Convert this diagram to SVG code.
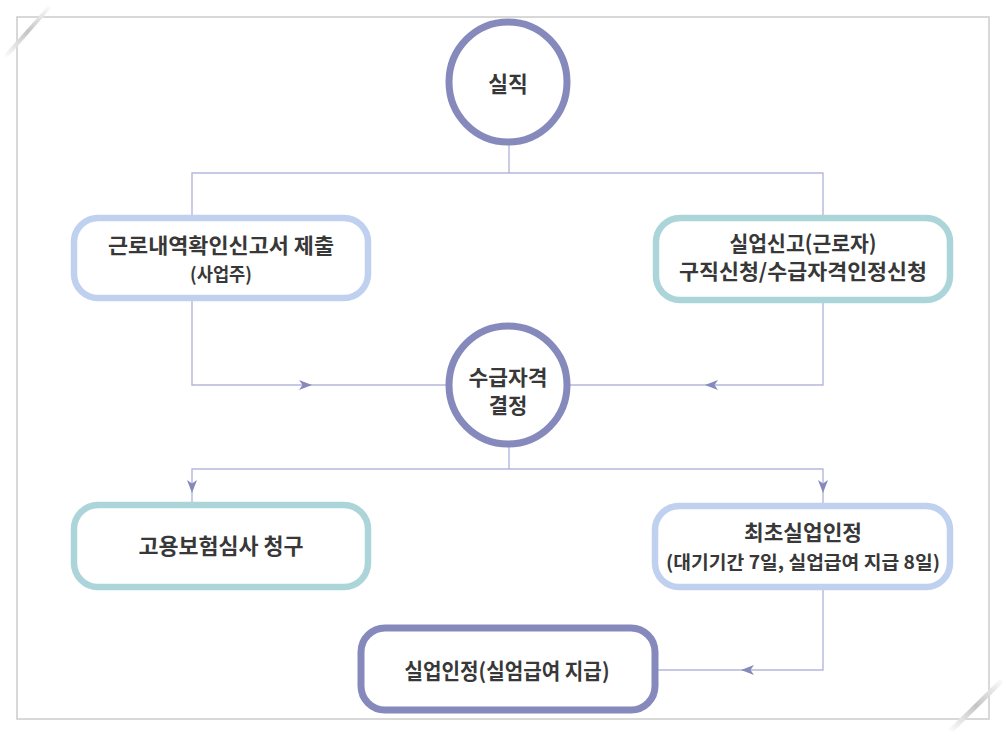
<svg xmlns="http://www.w3.org/2000/svg" width="1006" height="736" viewBox="0 0 1006 736">
  <style>
    .t { font-family: "Noto Sans CJK KR", "Noto Sans", sans-serif; fill: #383838; text-anchor: middle; font-weight: 600; }
    .big { font-size: 21.5px; }
    .mid { font-size: 21px; }
    .small { font-size: 18.5px; }
    .circle { fill: #ffffff; stroke: #8589bb; stroke-width: 7; }
    .boxBlue { fill: #ffffff; stroke: #bfd1ef; stroke-width: 6.5; }
    .boxTeal { fill: #ffffff; stroke: #acd5da; stroke-width: 6.5; }
    .boxDark { fill: #ffffff; stroke: #8589bb; stroke-width: 7; }
    .conn { fill: none; stroke: #b4b7dc; stroke-width: 1.4; }
    .arrow { fill: #8589bb; }
  </style>
  <defs>
    <path id="ah" d="M0,0 L-13,-5 L-9.5,0 L-13,5 Z"/>
    <linearGradient id="curlTL" x1="0" y1="1" x2="1" y2="0">
      <stop offset="0" stop-color="#ffffff"/>
      <stop offset="0.5" stop-color="#c4c4c4"/>
      <stop offset="1" stop-color="#ffffff"/>
    </linearGradient>
    <linearGradient id="curlBR" x1="0" y1="1" x2="1" y2="0">
      <stop offset="0" stop-color="#ffffff"/>
      <stop offset="0.5" stop-color="#c4c4c4"/>
      <stop offset="1" stop-color="#ffffff"/>
    </linearGradient>
  </defs>

  <rect x="0" y="0" width="1006" height="736" fill="#ffffff"/>

  <g id="frame">
    <rect x="17" y="17" width="972" height="702" fill="#ffffff" stroke="#cccccc" stroke-width="1.5"/>
    <polygon points="3,56 48,6 52,7 8,57" fill="url(#curlTL)"/>
    <polygon points="948,730 1000,679 1004,682 953,732" fill="url(#curlBR)"/>
  </g>

  <g id="connectors">
    <path class="conn" d="M509,145 V173"/>
    <path class="conn" d="M192,215 V173 H823 V215"/>
    <path class="conn" d="M192,301 V385 H447"/>
    <path class="conn" d="M823,303 V385 H569"/>
    <path class="conn" d="M509,447 V469"/>
    <path class="conn" d="M192,502 V469 H823 V503"/>
    <path class="conn" d="M823,590 V670 H658"/>
    <use href="#ah" class="arrow" transform="translate(312,385)"/>
    <use href="#ah" class="arrow" transform="translate(705,385) rotate(180)"/>
    <use href="#ah" class="arrow" transform="translate(192,493) rotate(90)"/>
    <use href="#ah" class="arrow" transform="translate(823,493) rotate(90)"/>
    <use href="#ah" class="arrow" transform="translate(741,670) rotate(180)"/>
  </g>

  <g id="node-siljik">
    <ellipse class="circle" cx="508" cy="82" rx="59" ry="60"/>
    <text class="t big" x="508" y="92">실직</text>
  </g>

  <g id="node-geunro">
    <rect class="boxBlue" x="74" y="218" width="294" height="80" rx="24"/>
    <text class="t mid" x="221" y="253" textLength="226" lengthAdjust="spacingAndGlyphs">근로내역확인신고서 제출</text>
    <text class="t small" x="221" y="281" textLength="62" lengthAdjust="spacingAndGlyphs">(사업주)</text>
  </g>

  <g id="node-sileop-singo">
    <rect class="boxTeal" x="656" y="218" width="294" height="82" rx="24"/>
    <text class="t mid" x="803" y="251" textLength="147" lengthAdjust="spacingAndGlyphs">실업신고(근로자)</text>
    <text class="t mid" x="803" y="279" textLength="248" lengthAdjust="spacingAndGlyphs">구직신청/수급자격인정신청</text>
  </g>

  <g id="node-sugeup">
    <ellipse class="circle" cx="508" cy="385" rx="59" ry="59"/>
    <text class="t mid" x="508" y="385" textLength="79" lengthAdjust="spacingAndGlyphs">수급자격</text>
    <text class="t mid" x="508" y="413">결정</text>
  </g>

  <g id="node-goyong">
    <rect class="boxTeal" x="74" y="505" width="294" height="82" rx="24"/>
    <text class="t big" x="221" y="554" textLength="165" lengthAdjust="spacingAndGlyphs">고용보험심사 청구</text>
  </g>

  <g id="node-choecho">
    <rect class="boxBlue" x="655" y="506" width="295" height="81" rx="24"/>
    <text class="t mid" x="803" y="540" textLength="118" lengthAdjust="spacingAndGlyphs">최초실업인정</text>
    <text class="t small" x="803" y="569" textLength="274" lengthAdjust="spacingAndGlyphs">(대기기간 7일, 실업급여 지급 8일)</text>
  </g>

  <g id="node-sileop-injeong">
    <rect class="boxDark" x="361" y="628" width="294" height="82" rx="24"/>
    <text class="t big" x="507" y="679" textLength="205" lengthAdjust="spacingAndGlyphs">실업인정(실엄급여 지급)</text>
  </g>
</svg>
